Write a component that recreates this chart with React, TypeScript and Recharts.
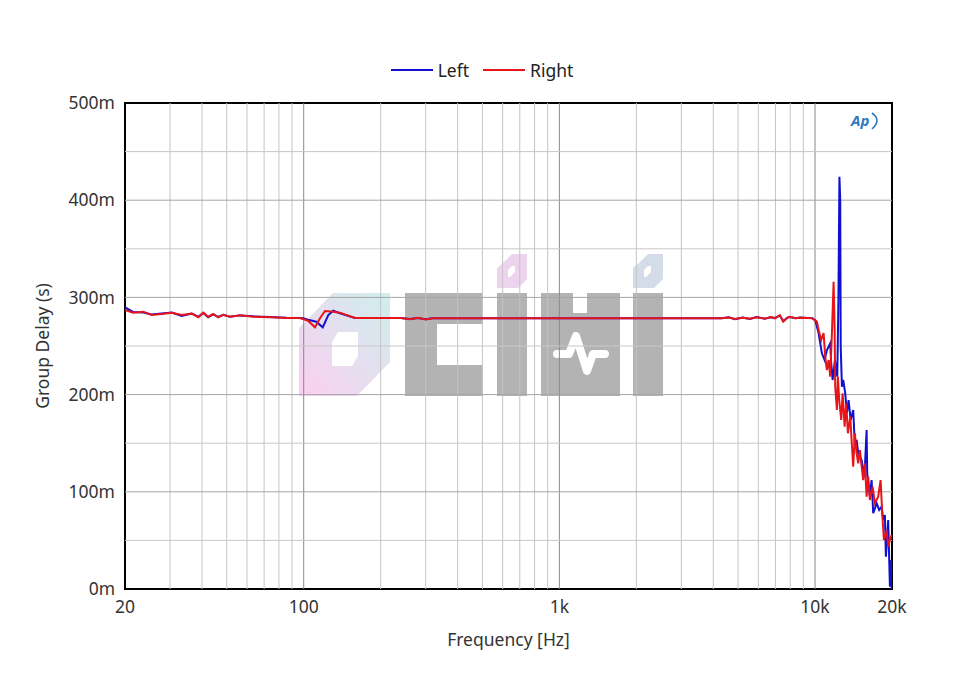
import { LineChart, Line, XAxis, YAxis, ReferenceLine, ReferenceArea, Legend } from 'recharts';

// Left channel (blue), frequency in Hz / group delay in s
const leftFreq = [
  20, 21.5, 23.6, 25.4, 27.8, 30.5, 33.3, 36.5, 38.7, 40.5, 42.3, 44.3, 46.3, 48.5, 51.5, 56.3, 63.5, 73.8, 85.8,
  96.7, 99.6, 104, 112, 118.7, 124.8, 130.5, 138.6, 158.7,
  240, 260, 280, 300, 320, 4310,
  4600, 4860, 5200, 5563, 5900, 6368, 6700, 6966, 7288, 7508, 7800, 7975, 8400, 8726, 9380, 9722,
  10018, 10328, 10636, 10898, 11128, 11464, 11568, 11718, 11960, 12216, 12344, 12456, 12546, 12602, 12740, 12888,
  13124, 13326, 13532, 13778, 14104, 14320, 14542, 14754, 15212, 15434, 15670, 15912, 15998, 16392, 16644, 16888,
  17412, 17822, 18212, 18478, 18762, 18928, 19326, 19626, 19804, 19946,
];
const leftDelay = [
  0.2898, 0.285, 0.2845, 0.2825, 0.2835, 0.2845, 0.281, 0.2835, 0.28, 0.284, 0.2795, 0.2825, 0.28, 0.282, 0.28, 0.2815, 0.2805, 0.2798, 0.279,
  0.2788, 0.2785, 0.277, 0.275, 0.2692, 0.2819, 0.2863, 0.2836, 0.2788,
  0.2788, 0.2778, 0.2788, 0.2775, 0.2785, 0.2785,
  0.2795, 0.2776, 0.2792, 0.2778, 0.2798, 0.278, 0.2795, 0.2788, 0.2812, 0.2758, 0.2792, 0.2798, 0.2786, 0.2792, 0.2788, 0.2788,
  0.2767, 0.2631, 0.2425, 0.2356, 0.2459, 0.2528, 0.2322, 0.215, 0.2356, 0.2184, 0.2973, 0.4242, 0.4002, 0.2493, 0.2081, 0.215,
  0.2013, 0.1811, 0.1944, 0.1739, 0.1842, 0.1464, 0.1533, 0.1396, 0.1327, 0.1224, 0.1258, 0.1636, 0.119, 0.095, 0.1121, 0.0779,
  0.0882, 0.0813, 0.0847, 0.071, 0.0761, 0.0332, 0.071, 0.0024, 0.0298, 0.0,
];

// Right channel (red)
const rightFreq = [
  20, 21.5, 23.6, 25.4, 27.8, 30.5, 33.3, 36.5, 38.7, 40.5, 42.3, 44.3, 46.3, 48.5, 51.5, 56.3, 63.5, 73.8, 85.8,
  96.7, 104, 110.7, 115.8, 121.1, 130.5, 138.6, 158.7,
  240, 260, 280, 300, 320, 4310,
  4600, 4860, 5200, 5563, 5900, 6368, 6700, 6966, 7288, 7508, 7800, 7975, 8400, 8726, 9380, 9722,
  10170, 10328, 10570, 10802, 10960, 11128, 11300, 11464, 11642, 11820, 11928, 11994, 12178, 12288, 12432, 12658,
  12820, 13052, 13242, 13446, 13728, 13900, 14104, 14320, 14542, 14754, 14982, 15212, 15434, 15670, 15912, 16142,
  16392, 16796, 17146, 17662, 18050, 18314, 18594, 19052, 19326, 19626, 19946,
];
const rightDelay = [
  0.287, 0.2843, 0.2853, 0.2819, 0.2829, 0.2843, 0.2819, 0.2833, 0.2795, 0.2843, 0.2801, 0.2829, 0.2795, 0.2822, 0.2801, 0.2816, 0.2801, 0.2795, 0.2788,
  0.2788, 0.276, 0.2692, 0.2785, 0.286, 0.2853, 0.2843, 0.2788,
  0.2788, 0.2775, 0.279, 0.2772, 0.2785, 0.2785,
  0.2792, 0.2778, 0.279, 0.278, 0.2795, 0.2782, 0.2798, 0.2785, 0.2818, 0.275, 0.279, 0.28, 0.2785, 0.279, 0.2788, 0.2785,
  0.275, 0.2665, 0.2562, 0.2634, 0.239, 0.2253, 0.2356, 0.2184, 0.2634, 0.3161, 0.2699, 0.2081, 0.1842, 0.2184, 0.1944, 0.1739,
  0.2013, 0.167, 0.191, 0.1602, 0.1773, 0.1533, 0.1258, 0.1602, 0.1396, 0.1293, 0.143, 0.1258, 0.1121, 0.1293, 0.095, 0.1155,
  0.0916, 0.1052, 0.0882, 0.095, 0.1121, 0.0779, 0.0504, 0.0607, 0.0435, 0.0504, 0.0556,
];

const xTicks = [20, 100, 1000, 10000, 20000];
const yTicks = [0, 0.1, 0.2, 0.3, 0.4, 0.5];
const xGrid = [
  30, 40, 50, 60, 70, 80, 90, 100, 200, 300, 400, 500, 600, 700, 800, 900, 1000,
  2000, 3000, 4000, 5000, 6000, 7000, 8000, 9000, 10000,
];
const xMajor = [100, 1000, 10000];
const yGrid = [0.05, 0.1, 0.15, 0.2, 0.25, 0.3, 0.35, 0.4, 0.45];

const leftData = leftFreq.map((f, i) => ({ f, v: leftDelay[i] }));
const rightData = rightFreq.map((f, i) => ({ f, v: rightDelay[i] }));

const BLUE = '#1010d0';
const RED = '#e8141a';
const FONT = '"Noto Sans", "Open Sans", sans-serif';
const GRAY = '#b3b3b3';

const fmtFreq = (v: number) => (v >= 1000 ? `${v / 1000}k` : `${v}`);
const fmtDelay = (v: number) => `${Math.round(v * 1000)}m`;

function LegendBox() {
  const item = (color: string, name: string) => (
    <div style={{ display: 'flex', alignItems: 'center', marginRight: 14 }}>
      <div style={{ width: 42, height: 2, background: color, marginRight: 5 }} />
      <span style={{ fontSize: 17.5, color: '#222' }}>{name}</span>
    </div>
  );
  return (
    <div style={{ display: 'flex', justifyContent: 'center', fontFamily: FONT, paddingLeft: 18 }}>
      {item(BLUE, 'Left')}
      {item(RED, 'Right')}
    </div>
  );
}

function Watermark() {
  return (
    <g>
      <defs>
        <linearGradient id="wmGrad" x1="1" y1="0" x2="0" y2="1">
          <stop offset="0" stopColor="#c6ecea" />
          <stop offset="1" stopColor="#fbc6ee" />
        </linearGradient>
      </defs>
      <path
        d="M333,293 L390,293 L390,362 L357,396 L299,396 L299,328 Z M338,332 L358,332 L358,356 L352,366 L332,366 L332,342 Z"
        fill="url(#wmGrad)"
        fillRule="evenodd"
        opacity={0.85}
      />
      <path d="M405,293 L483,293 L483,324 L437,324 L437,365 L483,365 L483,396 L405,396 Z" fill={GRAY} />
      <rect x={497} y={293} width={30} height={103} fill={GRAY} />
      <path d="M503,263 L512,254 L527,254 L527,279 L518,288 L497,288 L497,268 Z M508,270 L512,266 L515,266 L515,272 L510,277 L508,277 Z" fill="#ecd4ef" fillRule="evenodd" />
      <path d="M541,293 L573,293 L573,313 L587,313 L587,293 L620,293 L620,396 L541,396 Z" fill={GRAY} />
      <path d="M557,354 L569,354 L576,336 L587,371 L593,354 L605,354" fill="none" stroke="#fff" strokeWidth={8} strokeLinecap="round" strokeLinejoin="round" />
      <rect x={633} y={293} width={30} height={103} fill={GRAY} />
      <path d="M639,263 L648,254 L663,254 L663,279 L654,288 L633,288 L633,268 Z M644,270 L648,266 L651,266 L651,272 L646,277 L644,277 Z" fill="#d4dcea" fillRule="evenodd" />
      <text x={851} y={126} fontFamily={FONT} fontStyle="italic" fontWeight={700} fontSize={15} fill="#2f78c4">
        Ap
      </text>
      <path d="M872,113 Q882,120 872,129" fill="none" stroke="#2f78c4" strokeWidth={1.6} />
    </g>
  );
}

export default function App() {
  return (
    <div style={{ position: 'absolute', left: 0, top: 0, width: 960, height: 680, background: '#fff', fontFamily: FONT }}>
      <LineChart width={960} height={680} margin={{ top: 103, right: 68, left: 0, bottom: 0 }}>
        {xGrid.map((f) => (
          <ReferenceLine
            key={`vx-${f}`}
            x={f}
            stroke={xMajor.includes(f) ? '#8a8a8a' : '#c4c4c4'}
            strokeWidth={1}
          />
        ))}
        {yGrid.map((v) => (
          <ReferenceLine
            key={`hy-${v}`}
            y={v}
            stroke={Math.round(v * 100) % 10 === 0 ? '#a6a6a6' : '#c8c8c8'}
            strokeWidth={1}
          />
        ))}
        <Watermark />
        <XAxis
          type="number"
          dataKey="f"
          scale="log"
          domain={[20, 20000]}
          ticks={xTicks}
          tickFormatter={fmtFreq}
          allowDataOverflow
          axisLine={false}
          tickLine={false}
          tickSize={6}
          tickMargin={6}
          height={91}
          tick={{ fontSize: 17.5, fill: '#333', fontFamily: FONT }}
          label={{ value: 'Frequency [Hz]', position: 'center', dy: 5, fontSize: 17.5, fill: '#333', fontFamily: FONT }}
        />
        <YAxis
          type="number"
          dataKey="v"
          domain={[0, 0.5]}
          ticks={yTicks}
          tickFormatter={fmtDelay}
          allowDataOverflow
          axisLine={false}
          tickLine={false}
          tickSize={6}
          tickMargin={4}
          width={125}
          tick={{ fontSize: 17.5, fill: '#333', fontFamily: FONT }}
          label={{ value: 'Group Delay (s)', angle: -90, position: 'center', dx: -20, fontSize: 17.5, fill: '#333', fontFamily: FONT }}
        />
        <Legend
          verticalAlign="middle"
          align="center"
          layout="horizontal"
          wrapperStyle={{ top: 58, left: 0, width: 960 }}
          content={() => <LegendBox />}
        />
        <Line data={leftData} dataKey="v" name="Left" type="linear" stroke={BLUE} strokeWidth={2} dot={false} isAnimationActive={false} />
        <Line data={rightData} dataKey="v" name="Right" type="linear" stroke={RED} strokeWidth={2} dot={false} isAnimationActive={false} />
        <ReferenceArea x1={20} x2={20000} y1={0} y2={0.5} fill="none" stroke="#000" strokeWidth={2} ifOverflow="visible" />
      </LineChart>
    </div>
  );
}
